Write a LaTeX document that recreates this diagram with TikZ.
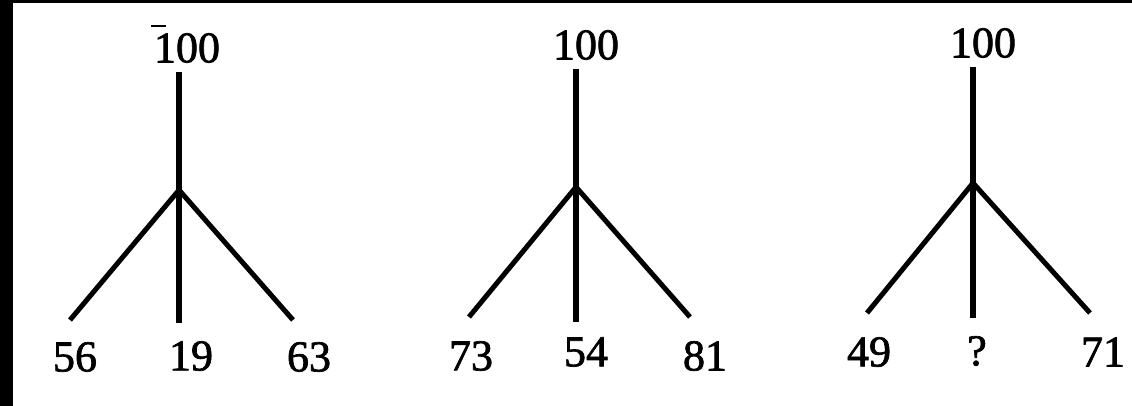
\documentclass[tikz,border=0pt]{standalone}
\usepackage{fontspec}
\setmainfont{Liberation Serif}[FakeBold=1.6]
\begin{document}
\begin{tikzpicture}[x=1pt,y=-1pt,
  num/.style={inner sep=0pt,outer sep=0pt,font=\fontsize{44}{44}\selectfont},
  topnum/.style={num,inner sep=0pt,outer sep=9pt},
  stem/.style={line width=5.5pt,black},
  branch/.style={line width=5pt,black}]
\useasboundingbox (0,0) rectangle (1132,406);
\fill[white] (0,0) rectangle (1132,406);
\fill[black] (0,0) rectangle (13,406);
\fill[black] (0,0) rectangle (1132,3);
% tree 1
\node[topnum] (t1) at (187,48) {100};
\draw[line width=2.2pt] (151,26) -- (166,26);
\coordinate (j1) at (179,190);
\coordinate (l1) at (70,320);
\coordinate (m1) at (179,323);
\coordinate (r1) at (293,320);
\draw[stem] (t1.south -| j1) -- (j1);
\draw[branch] (j1) -- (l1);
\draw[stem] (j1) -- (m1);
\draw[branch] (j1) -- (r1);
\node[num] (a1) at (75,357) {56};
\node[num] (b1) at (191,356) {19};
\node[num] (c1) at (309,357) {63};
% tree 2
\node[topnum] (t2) at (586,45) {100};
\coordinate (j2) at (576,187);
\coordinate (l2) at (469,317);
\coordinate (m2) at (576,322);
\coordinate (r2) at (690,317);
\draw[stem] (t2.south -| j2) -- (j2);
\draw[branch] (j2) -- (l2);
\draw[stem] (j2) -- (m2);
\draw[branch] (j2) -- (r2);
\node[num] (a2) at (471,356) {73};
\node[num] (b2) at (586,352) {54};
\node[num] (c2) at (705,356) {81};
% tree 3
\node[topnum] (t3) at (983,43) {100};
\coordinate (j3) at (973,183);
\coordinate (l3) at (867,313);
\coordinate (m3) at (973,318);
\coordinate (r3) at (1090,313);
\draw[stem] (t3.south -| j3) -- (j3);
\draw[branch] (j3) -- (l3);
\draw[stem] (j3) -- (m3);
\draw[branch] (j3) -- (r3);
\node[num] (a3) at (869,352) {49};
\node[num] (b3) at (977,351) {?};
\node[num] (c3) at (1103,352) {71};
\end{tikzpicture}
\end{document}
